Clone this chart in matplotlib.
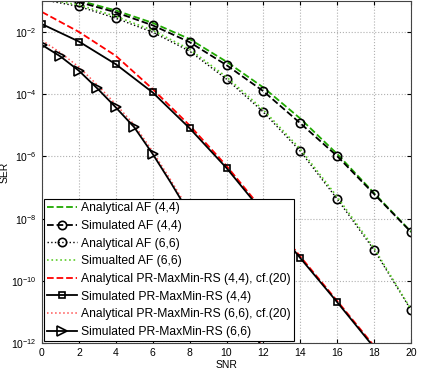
import matplotlib
matplotlib.use("Agg")
import matplotlib.pyplot as plt
import numpy as np

plt.rcParams['font.family'] = ['Liberation Sans', 'DejaVu Sans']

# SNR grids
snr_af = [0, 2, 4, 6, 8, 10, 12, 14, 16, 18, 20]
snr_rs44 = [0, 2, 4, 6, 8, 10, 12, 14, 16, 18]
snr_rs66 = [0, 1, 2, 3, 4, 5, 6, 7, 8, 9, 10, 11, 12]

# log10(SER) values
ana_af44 = [-0.80, -0.98, -1.30, -1.70, -2.22, -2.95, -3.78, -4.78, -5.92, -7.18, -8.42]
sim_af44 = [-0.85, -1.03, -1.36, -1.78, -2.32, -3.06, -3.90, -4.93, -5.99, -7.21, -8.43]
ana_af66 = [-0.95, -1.17, -1.55, -2.00, -2.61, -3.51, -4.57, -5.83, -7.37, -9.01, -10.94]
sim_af66 = [-0.92, -1.12, -1.49, -1.94, -2.55, -3.44, -4.50, -5.76, -7.30, -8.95, -10.92]
ana_rs44 = [-1.35, -1.99, -2.76, -3.83, -5.00, -6.30, -7.75, -9.22, -10.65, -12.10]
sim_rs44 = [-1.74, -2.30, -3.03, -3.94, -5.09, -6.37, -7.82, -9.27, -10.69, -12.15]
ana_rs66 = [-2.26, -2.66, -3.12, -3.70, -4.32, -4.98, -5.84, -6.78, -7.77, -8.82, -9.93, -11.05, -12.20]
sim_rs66 = [-2.41, -2.78, -3.24, -3.81, -4.42, -5.06, -5.92, -6.86, -7.85, -8.90, -10.00, -11.10, -12.25]

fig = plt.figure(figsize=(4.36, 3.76), dpi=100)
ax = fig.add_axes([0.0963, 0.088, 0.8464, 0.909])

green = '#1fa800'
lgreen = '#5ccc2a'

ax.semilogy(snr_af, 10.0 ** np.array(ana_af44), '--', color=green, lw=1.3,
            label='Analytical AF (4,4)')
ax.semilogy(snr_af, 10.0 ** np.array(sim_af44), '--o', color='k', lw=1.3, ms=6,
            mfc='none', mew=1.2, markevery=range(1, 11), label='Simulated AF (4,4)')
ax.semilogy(snr_af, 10.0 ** np.array(ana_af66), ':o', color='k', lw=1.0, ms=6,
            mfc='none', mew=1.2, markevery=range(1, 11), label='Analytical AF (6,6)')
ax.semilogy(snr_af, 10.0 ** np.array(sim_af66), ':', color=lgreen, lw=1.2,
            label='Simualted AF (6,6)')
ax.semilogy(snr_rs44, 10.0 ** np.array(ana_rs44), '--', color='red', lw=1.3,
            label='Analytical PR-MaxMin-RS (4,4), cf.(20)')
ax.semilogy(snr_rs44, 10.0 ** np.array(sim_rs44), '-s', color='k', lw=1.3, ms=5,
            mfc='none', mew=1.2, markevery=range(0, 9), label='Simulated PR-MaxMin-RS (4,4)')
ax.semilogy(snr_rs66, 10.0 ** np.array(ana_rs66), ':', color='#ff5050', lw=1.1,
            label='Analytical PR-MaxMin-RS (6,6), cf.(20)')
ax.semilogy(snr_rs66, 10.0 ** np.array(sim_rs66), '->', color='k', lw=1.3, ms=7,
            mfc='none', mew=1.2, markevery=range(0, 7), label='Simulated PR-MaxMin-RS (6,6)')

ax.set_xlim(0, 20)
ax.set_ylim(1e-12, 1e-1)
ax.set_xticks(np.arange(0, 21, 2))
ax.set_yticks([1e-12, 1e-10, 1e-8, 1e-6, 1e-4, 1e-2])
ax.minorticks_off()
ax.tick_params(direction='in', top=True, right=True, labelsize=7.5, length=3, pad=4)
ax.grid(True, which='major', linestyle=':', color='#b0b0b0', lw=0.8)
ax.set_xlabel('SNR', fontsize=7.5, labelpad=1)
ax.set_ylabel('SER', fontsize=7.5, labelpad=1)
for s in ax.spines.values():
    s.set_color('#444444')

leg = ax.legend(loc='lower left', fontsize=8.7, frameon=True, fancybox=False,
                borderaxespad=0.15, handlelength=2.5, handletextpad=0.35,
                labelspacing=0.47, borderpad=0.25, numpoints=1)
leg.get_frame().set_edgecolor('k')
leg.get_frame().set_linewidth(0.8)
leg.get_frame().set_alpha(1)

fig.savefig('out.png', dpi=100)
